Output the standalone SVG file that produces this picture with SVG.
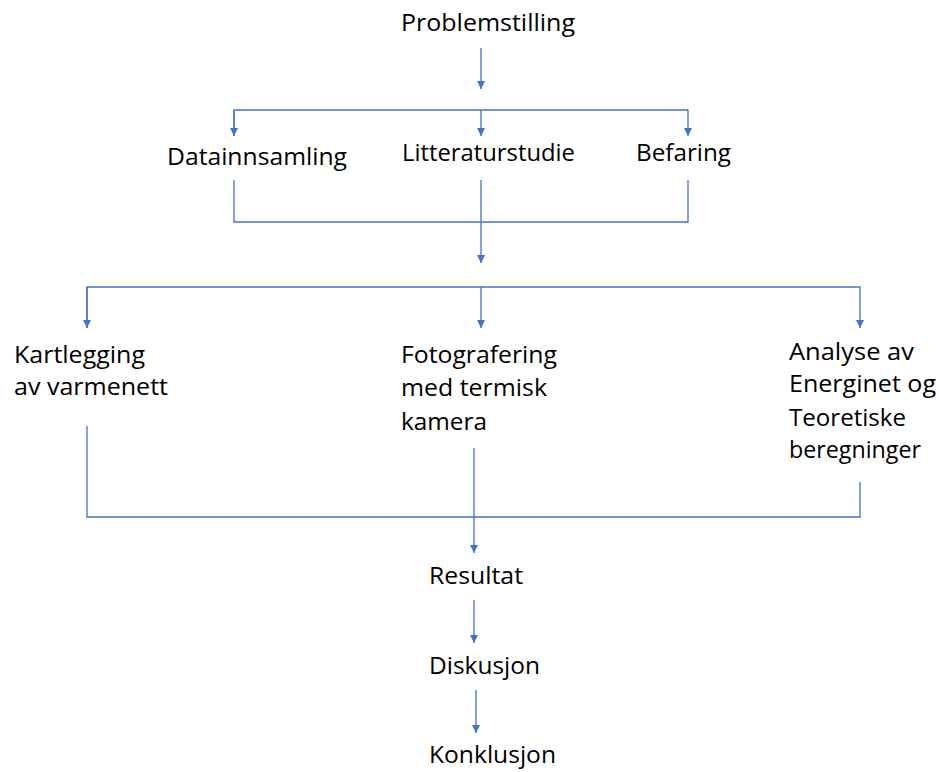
<svg xmlns="http://www.w3.org/2000/svg" width="939" height="772" viewBox="0 0 939 772">
<defs>
<style>
.t{font-family:"Open Sans","Liberation Sans",sans-serif;font-size:23px;fill:#000}
.c{fill:none;stroke:#4472C4;stroke-width:1.3}
</style>
<marker id="a" viewBox="0 0 10 10" refX="10" refY="5" markerWidth="8" markerHeight="8" markerUnits="userSpaceOnUse" orient="auto">
<path d="M0,0 L10,5 L0,10 z" fill="#4472C4"/>
</marker>
</defs>
<rect width="939" height="772" fill="#fff"/>
<g id="connectors">
<line class="c" x1="481" y1="48" x2="481" y2="89" marker-end="url(#a)"/>
<polyline class="c" points="234,136 234,110 688,110 688,136" marker-end="url(#a)"/>
<line class="c" x1="234" y1="110" x2="234" y2="136" marker-end="url(#a)"/>
<line class="c" x1="481" y1="110" x2="481" y2="136" marker-end="url(#a)"/>
<polyline class="c" points="234,180 234,222 688,222 688,180"/>
<line class="c" x1="481" y1="180" x2="481" y2="263" marker-end="url(#a)"/>
<polyline class="c" points="87,328 87,287 860,287 860,328" marker-end="url(#a)"/>
<line class="c" x1="87" y1="287" x2="87" y2="328" marker-end="url(#a)"/>
<line class="c" x1="481" y1="287" x2="481" y2="328" marker-end="url(#a)"/>
<polyline class="c" points="87,426 87,517 860,517 860,482"/>
<line class="c" x1="474" y1="448" x2="474" y2="553" marker-end="url(#a)"/>
<line class="c" x1="474" y1="600" x2="474" y2="643" marker-end="url(#a)"/>
<line class="c" x1="476" y1="690" x2="476" y2="733" marker-end="url(#a)"/>
</g>
<g id="problemstilling"><text class="t" x="401" y="31" textLength="174" lengthAdjust="spacingAndGlyphs">Problemstilling</text></g>
<g id="datainnsamling"><text class="t" x="167" y="165" textLength="180" lengthAdjust="spacingAndGlyphs">Datainnsamling</text></g>
<g id="litteraturstudie"><text class="t" x="402" y="161" textLength="173" lengthAdjust="spacingAndGlyphs">Litteraturstudie</text></g>
<g id="befaring"><text class="t" x="636" y="161" textLength="95" lengthAdjust="spacingAndGlyphs">Befaring</text></g>
<g id="kartlegging">
<text class="t" x="14" y="363" textLength="131" lengthAdjust="spacingAndGlyphs">Kartlegging</text>
<text class="t" x="14" y="395" textLength="154" lengthAdjust="spacingAndGlyphs">av varmenett</text>
</g>
<g id="fotografering">
<text class="t" x="401" y="363" textLength="156" lengthAdjust="spacingAndGlyphs">Fotografering</text>
<text class="t" x="401" y="396" textLength="146" lengthAdjust="spacingAndGlyphs">med termisk</text>
<text class="t" x="401" y="430" textLength="86" lengthAdjust="spacingAndGlyphs">kamera</text>
</g>
<g id="analyse">
<text class="t" x="789" y="360" textLength="125" lengthAdjust="spacingAndGlyphs">Analyse av</text>
<text class="t" x="789" y="392" textLength="147" lengthAdjust="spacingAndGlyphs">Energinet og</text>
<text class="t" x="789" y="426" textLength="117" lengthAdjust="spacingAndGlyphs">Teoretiske</text>
<text class="t" x="789" y="458" textLength="132" lengthAdjust="spacingAndGlyphs">beregninger</text>
</g>
<g id="resultat"><text class="t" x="429" y="584" textLength="94" lengthAdjust="spacingAndGlyphs">Resultat</text></g>
<g id="diskusjon"><text class="t" x="429" y="674" textLength="111" lengthAdjust="spacingAndGlyphs">Diskusjon</text></g>
<g id="konklusjon"><text class="t" x="429" y="763" textLength="127" lengthAdjust="spacingAndGlyphs">Konklusjon</text></g>
</svg>
